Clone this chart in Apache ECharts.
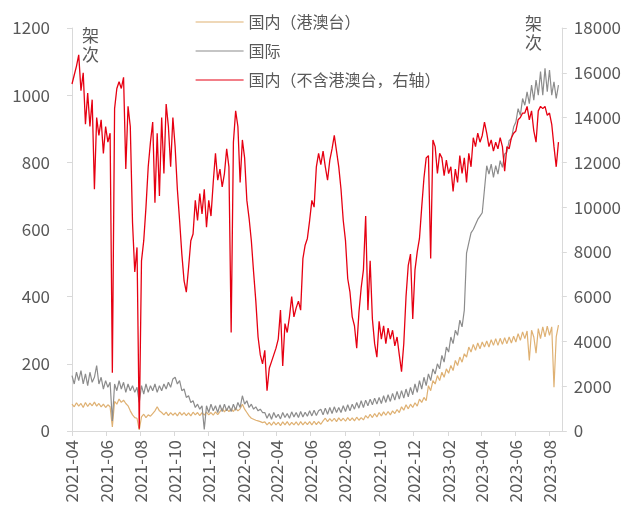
<!DOCTYPE html>
<html>
<head>
<meta charset="utf-8">
<script src="https://cdn.jsdelivr.net/npm/echarts@6/dist/echarts.min.js"></script>
<style>
  html, body { margin: 0; padding: 0; background: #fff; }
  #chart { width: 624px; height: 511px; }
</style>
</head>
<body>
<div id="chart"></div>
<script>
// Daily flights sampled every 4 days starting 2021-04-01
var startDate = [2021, 3, 1];
var endDate = [2023, 7, 23];
var stepDays = 4;

// 国内（不含港澳台）, right axis
var domesticMain = [
  15500, 15900, 16300, 16800, 15200, 16000, 13700, 15100, 13600, 14800,
  10800, 14000, 13200, 13900, 12400, 13600, 12900, 13300, 2600, 14400,
  15300, 15600, 15300, 15800, 11700, 14500, 13600, 9300, 7100, 8200,
  100, 7600, 8500, 10000, 11800, 12900, 13800, 10200, 13300, 10500,
  14000, 11500, 14600, 13600, 11800, 14000, 12700, 10800, 9400, 7900,
  6700, 6200, 7300, 8500, 8800, 10300, 9400, 10600, 9700, 10800,
  9100, 10300, 9600, 11100, 12400, 11200, 11700, 10900, 11500, 12600,
  11800, 4400, 12900, 14300, 13600, 11100, 13000, 12200, 10300, 9500,
  8500, 7100, 5800, 4200, 3400, 3000, 3600, 1800, 2800, 3100,
  3400, 3700, 4100, 5400, 2900, 4800, 4400, 5100, 6000, 5100,
  5500, 5800, 5400, 7700, 8300, 8600, 9400, 10300, 10000, 11800,
  12400, 11900, 12500, 11800, 11200, 12100, 12600, 13200, 12500, 11800,
  10800, 9400, 8500, 6800, 6200, 5100, 4700, 3700, 5300, 6400,
  7200, 9600, 5400, 7600, 5000, 3900, 3300, 4900, 4100, 4700,
  3900, 4600, 4100, 4500, 3800, 4200, 3400, 2650, 3900, 6000,
  7400, 7900, 5000, 7200, 8000, 8600, 10000, 11300, 12200, 12300,
  7700, 13000, 12700, 11500, 12400, 12200, 11400, 12100, 11500, 11800,
  10700, 11700, 11100, 12300, 11500, 12200, 11100, 12400, 11800, 13100,
  12700, 13300, 12900, 13200, 13800, 13300, 12700, 13000, 12500, 12900,
  12600, 13100, 12700, 11600, 12700, 12600, 13100, 13300, 13400, 13900,
  14000, 14200, 14200, 14500, 13900, 14300, 13400, 12900, 14300, 14500,
  14400, 14500, 14100, 14200, 13700, 12700, 11800, 12900
];

// 国际, left axis
var international = [
  165, 140, 175, 150, 180, 140, 170, 135, 175, 145,
  160, 195, 140, 160, 125, 150, 130, 145, 30, 140,
  120, 150, 125, 145, 115, 140, 120, 135, 115, 130,
  85, 135, 110, 140, 115, 135, 120, 140, 115, 135,
  120, 140, 125, 145, 130, 155, 160, 140, 150, 120,
  125, 100, 105, 85, 90, 70, 80, 65, 75, 5,
  75, 55, 80, 60, 75, 55, 78, 58, 80, 60,
  75, 58, 80, 62, 85, 70, 105, 80, 90, 70,
  80, 65, 72, 60, 65, 55, 55, 38, 52, 35,
  55, 40, 50, 36, 55, 40, 52, 38, 57, 42,
  55, 40, 58, 42, 56, 44, 60, 45, 62, 46,
  60, 65, 48, 68, 50, 70, 52, 72, 55, 70,
  55, 75, 58, 78, 60, 80, 65, 85, 68, 90,
  70, 92, 75, 95, 78, 98, 80, 100, 82, 105,
  85, 108, 88, 112, 92, 118, 95, 120, 98, 125,
  102, 130, 108, 140, 115, 150, 125, 160, 135, 170,
  150, 185, 170, 200, 185, 225, 205, 250, 235, 280,
  260, 300, 285, 330, 310, 360, 530, 560, 590, 600,
  615, 630, 640, 650, 720, 790, 765, 795, 755, 790,
  765, 805, 785, 825, 830, 865, 870, 905, 920, 960,
  940, 990, 970, 1010, 975, 1030, 985, 1045, 1000, 1070,
  1000, 1080, 1010, 1075, 1000, 1040, 990, 1030
];

// 国内（港澳台）, left axis
var hkMacauTaiwan = [
  80, 72, 84, 74, 82, 70, 85, 73, 83, 75,
  86, 74, 82, 72, 80, 70, 78, 72, 12, 88,
  80, 95, 85, 92, 82, 75, 60, 48, 40, 38,
  3, 42, 50, 40, 48, 44, 52, 60, 72, 60,
  55, 48, 56, 46, 55, 47, 54, 45, 56, 47,
  55, 46, 54, 45, 56, 48, 55, 46, 55, 47,
  56, 48, 55, 47, 57, 49, 58, 67, 57, 66,
  58, 67, 58, 68, 60, 66, 80, 65, 55, 45,
  38, 35, 32, 30, 28, 25, 27, 18, 26, 17,
  27, 18, 26, 16, 27, 18, 28, 17, 26, 18,
  27, 17, 28, 18, 27, 19, 28, 18, 29, 19,
  28, 20, 30, 38, 28, 37, 29, 38, 28, 39,
  30, 38, 29, 40, 31, 39, 30, 41, 32, 40,
  33, 46, 38, 50, 40, 52, 42, 55, 45, 57,
  47, 58, 48, 60, 52, 64, 55, 72, 62, 78,
  66, 80, 70, 84, 74, 95, 85, 100, 90, 135,
  120, 150, 140, 165, 150, 175, 160, 185, 172, 195,
  180, 210, 195, 220, 205, 230, 220, 250, 235, 258,
  240, 262, 245, 265, 250, 268, 250, 272, 255, 275,
  255, 276, 258, 278, 260, 280, 262, 282, 265, 290,
  270, 295, 275, 298, 210, 300, 280, 232, 305, 275,
  310, 280, 312, 285, 310, 130, 280, 315
];

var xTickLabels = [
  '2021-04', '2021-06', '2021-08', '2021-10', '2021-12',
  '2022-02', '2022-04', '2022-06', '2022-08', '2022-10', '2022-12',
  '2023-02', '2023-04', '2023-06', '2023-08'
];
var leftTicks = [0, 200, 400, 600, 800, 1000, 1200];
var rightTicks = [0, 2000, 4000, 6000, 8000, 10000, 12000, 14000, 16000, 18000];

var seriesNames = ['国内（港澳台）', '国际', '国内（不含港澳台，右轴）'];
var seriesColors = ['#dfb173', '#8c8c8c', '#e60012'];
var unitLabel = '架次';

// The x axis counts days since the start date
var DAY = 86400000;
var t0 = Date.UTC(startDate[0], startDate[1], startDate[2]);
function dayOf(y, m, d) { return Math.round((Date.UTC(y, m, d) - t0) / DAY); }
function pairs(values) {
  return values.map(function (v, i) { return [stepDays * i, v]; });
}
var tickDays = xTickLabels.map(function (s) {
  var p = s.split('-');
  return dayOf(+p[0], +p[1] - 1, 1);
});
var lastDay = dayOf(endDate[0], endDate[1], endDate[2]);

var FONT = 'Noto Sans CJK SC';
var TXT = '#595959';
var AXIS = '#d9d9d9';
function plain(v) { return String(v); }

var chart = echarts.init(document.getElementById('chart'), null, { renderer: 'canvas' });
chart.setOption({
  animation: false,
  backgroundColor: '#ffffff',
  textStyle: { fontFamily: FONT },
  grid: { left: 72, right: 59, top: 28, bottom: 80, containLabel: false },
  legend: {
    orient: 'vertical',
    left: 190,
    top: 9,
    itemWidth: 48,
    itemHeight: 16,
    itemGap: 13,
    data: seriesNames,
    itemStyle: { opacity: 0 },
    lineStyle: { width: 1.2 },
    textStyle: { color: TXT, fontSize: 16, fontFamily: FONT }
  },
  xAxis: {
    type: 'value',
    min: 0,
    max: lastDay,
    axisLine: { show: true, onZero: false, lineStyle: { color: AXIS, width: 1 } },
    axisTick: { show: true, length: 5, lineStyle: { color: AXIS }, customValues: tickDays },
    splitLine: { show: false },
    axisLabel: {
      customValues: tickDays,
      rotate: 90,
      margin: 9,
      color: TXT,
      fontSize: 17,
      fontFamily: FONT,
      formatter: function (v) {
        var idx = tickDays.indexOf(v);
        return idx >= 0 ? xTickLabels[idx] : '';
      }
    }
  },
  yAxis: [
    {
      type: 'value',
      min: leftTicks[0],
      max: leftTicks[leftTicks.length - 1],
      interval: 200,
      position: 'left',
      axisLine: { show: true, lineStyle: { color: AXIS } },
      axisTick: { show: true, length: 5, lineStyle: { color: AXIS } },
      splitLine: { show: false },
      axisLabel: { margin: 22, color: TXT, fontSize: 17, fontFamily: FONT, formatter: plain }
    },
    {
      type: 'value',
      min: rightTicks[0],
      max: rightTicks[rightTicks.length - 1],
      interval: 2000,
      position: 'right',
      axisLine: { show: true, lineStyle: { color: AXIS } },
      axisTick: { show: true, length: 5, lineStyle: { color: AXIS } },
      splitLine: { show: false },
      axisLabel: { margin: 12, color: TXT, fontSize: 17, fontFamily: FONT, formatter: plain }
    }
  ],
  graphic: [
    { type: 'text', left: 82, top: 26, style: { text: unitLabel.split('').join('\n'), fill: TXT, fontSize: 17, lineHeight: 19, fontFamily: FONT } },
    { type: 'text', left: 525, top: 14, style: { text: unitLabel.split('').join('\n'), fill: TXT, fontSize: 17, lineHeight: 19, fontFamily: FONT } }
  ],
  series: [
    {
      name: seriesNames[0], type: 'line', yAxisIndex: 0, symbol: 'none',
      lineStyle: { color: seriesColors[0], width: 1.2 }, itemStyle: { color: seriesColors[0] },
      data: pairs(hkMacauTaiwan)
    },
    {
      name: seriesNames[1], type: 'line', yAxisIndex: 0, symbol: 'none',
      lineStyle: { color: seriesColors[1], width: 1.2 }, itemStyle: { color: seriesColors[1] },
      data: pairs(international)
    },
    {
      name: seriesNames[2], type: 'line', yAxisIndex: 1, symbol: 'none',
      lineStyle: { color: seriesColors[2], width: 1.3 }, itemStyle: { color: seriesColors[2] },
      data: pairs(domesticMain)
    }
  ]
});
</script>
</body>
</html>
